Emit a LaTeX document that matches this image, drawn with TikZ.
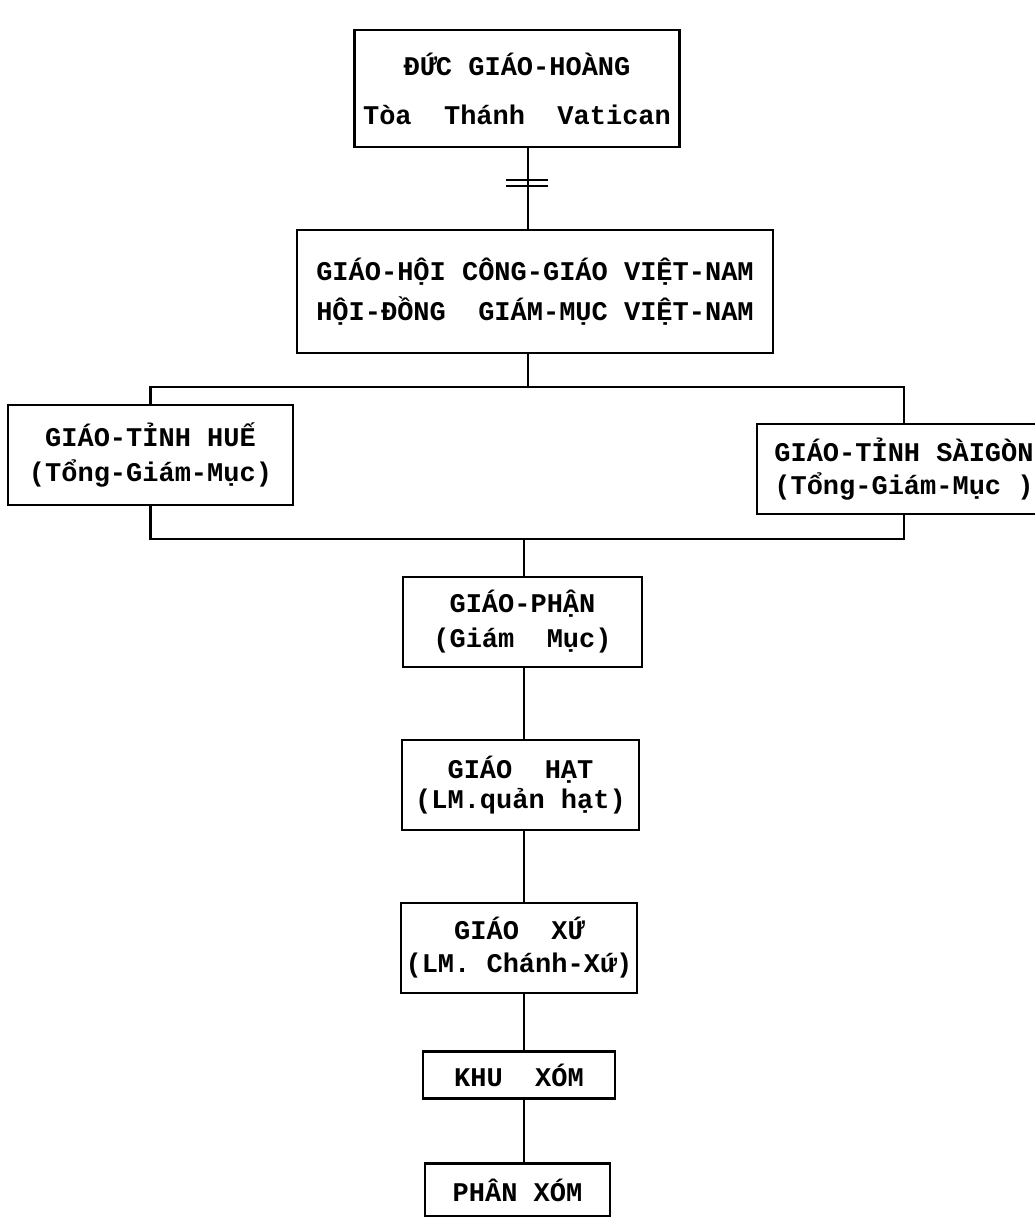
\documentclass[tikz,border=0pt]{standalone}
\usepackage{fontspec}
\newfontfamily\typefont{Liberation Mono}

\begin{document}
\begin{tikzpicture}[x=1pt,y=-1pt,
    orgbox/.style={draw, line width=2.2pt, align=center, inner sep=0pt,
        font=\typefont\bfseries\fontsize{27}{#1}\selectfont},
    orgbox/.default=34,
    link/.style={line width=2.2pt}]
    \useasboundingbox (0,0) rectangle (1035,1217);

    % Toa Thanh and Hoi Dong
    \node[orgbox=49, minimum width=325pt, minimum height=117pt] (pope) at (517,88.5) {ĐỨC GIÁO-HOÀNG\\Tòa~~Thánh~~Vatican};
    \node[orgbox=40, minimum width=476pt, minimum height=123pt] (church) at (535,291.5) {GIÁO-HỘI CÔNG-GIÁO VIỆT-NAM\\HỘI-ĐỒNG~~GIÁM-MỤC VIỆT-NAM};
    \coordinate (tick) at (528,183);
    \draw[link] (pope.south -| tick) -- (church.north -| tick);
    \draw[line width=1.2pt] (506,180) -- (548,180) (506,186) -- (548,186);

    % Giao tinh
    \node[orgbox=35, minimum width=285pt, minimum height=100pt] (hue) at (150.5,455) {GIÁO-TỈNH HUẾ\\(Tổng-Giám-Mục)};
    \node[orgbox=33, minimum width=294pt, minimum height=90pt] (saigon) at (904,469) {GIÁO-TỈNH SÀIGÒN\\(Tổng-Giám-Mục )};
    \coordinate (upbar) at (528,387);
    \coordinate (lowbar) at (524,539);
    \draw[link] (church.south -| upbar) -- (upbar);
    \draw[link] (hue.north) |- (upbar) -| (saigon.north);
    \draw[link] (hue.south) |- (lowbar) -| (saigon.south);

    % Giao phan down to phan xom
    \node[orgbox=35, minimum width=239pt, minimum height=90pt] (phan) at (522.5,622) {GIÁO-PHẬN\\(Giám~~Mục)};
    \node[orgbox=30, minimum width=237pt, minimum height=90pt] (hat) at (520.5,785) {GIÁO~~HẠT\\(LM.quản hạt)};
    \node[orgbox=33, minimum width=236pt, minimum height=90pt] (xu) at (519,948) {GIÁO~~XỨ\\(LM. Chánh-Xứ)};
    \node[orgbox, minimum width=192pt, minimum height=47pt] (khu) at (519,1075) {KHU~~XÓM};
    \node[orgbox, minimum width=185pt, minimum height=53pt] (xom) at (517.5,1190) {PHÂN XÓM};
    \draw[link] (lowbar) -- (phan.north -| lowbar);
    \foreach \a/\b in {phan/hat, hat/xu, xu/khu, khu/xom}
        \draw[link] (\a.south -| lowbar) -- (\b.north -| lowbar);
\end{tikzpicture}
\end{document}
